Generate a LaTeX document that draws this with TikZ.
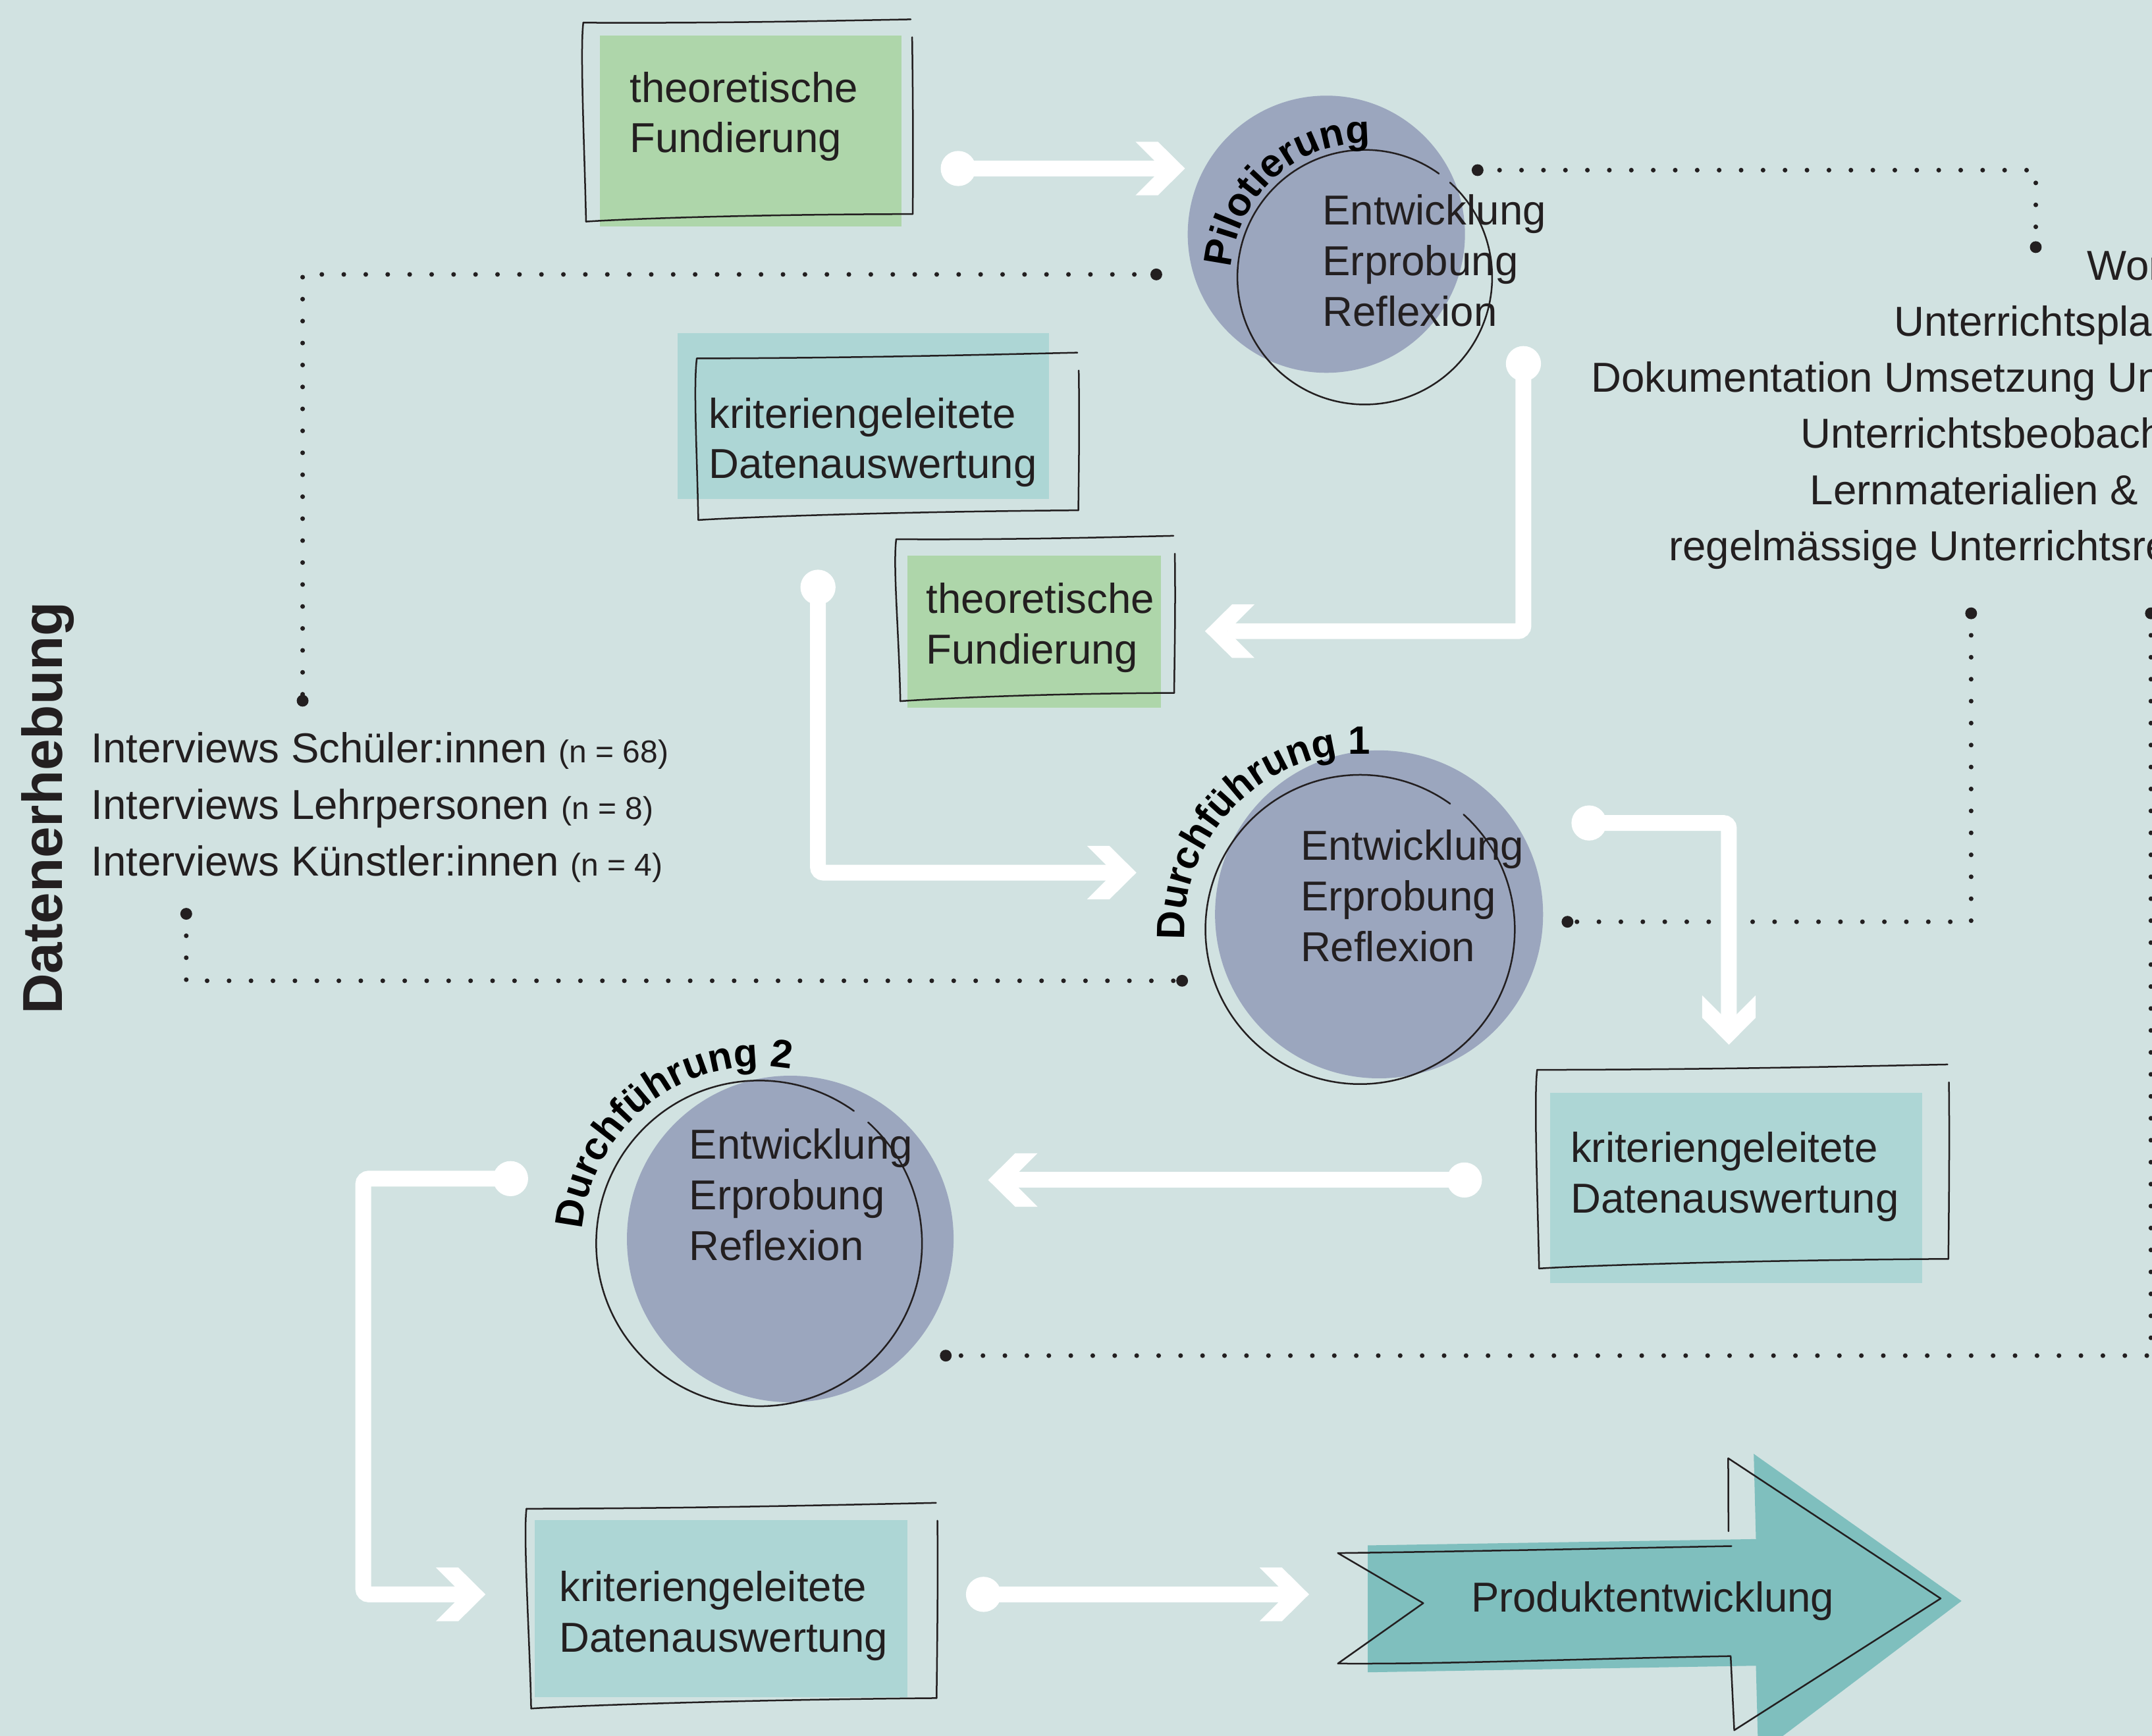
\documentclass[tikz,border=0pt]{standalone}
\usepackage{fontspec}
\setmainfont{Liberation Sans}
\usetikzlibrary{calc,decorations.text}
\definecolor{bg}{RGB}{209,226,225}
\definecolor{greenfill}{RGB}{174,214,170}
\definecolor{tealfill}{RGB}{173,214,213}
\definecolor{circfill}{RGB}{155,166,190}
\definecolor{arrowfill}{RGB}{127,191,190}
\definecolor{ink}{RGB}{35,31,32}
\newcommand\linesof[1]{\begin{tabular}[t]{@{}l@{}}#1\end{tabular}}
\newcommand\chev[2]{\fill[white, shift={(#1)}, rotate=#2] (-36,19.5) -- (-19.7,19.5) -- (0,0) -- (-19.7,-19.5) -- (-36,-19.5) -- (-16.5,0) -- cycle;}
\newcommand\sketchbox[8]{%
  \draw[sketch] (#1,-#2) .. controls ($(#1,-#2)!0.4!(#3,-#4)+(0,-1.5)$) and ($(#1,-#2)!0.75!(#3,-#4)+(0,-0.5)$) .. (#3,-#4);
  \draw[sketch] (#3+1,-#4-13) .. controls (#3+1.5,-#4-50) and (#5+0.5,-#6+40) .. (#5,-#6);
  \draw[sketch] (#5,-#6) .. controls ($(#5,-#6)!0.5!(#7,-#8)+(0,2.5)$) and ($(#7,-#8)+(30,2)$) .. (#7,-#8);
  \draw[sketch] (#1,-#2) .. controls (#1-2.5,-#2-20) and (#7-1,-#8+50) .. (#7,-#8);
}
\newcommand\arctext[4]{%
  \path[decorate, decoration={text along path, text={|\bfseries\fontsize{14.4}{17}\selectfont|#4}, text align=left}]
    ([shift={(#3:#2)}]#1) arc[start angle=#3, end angle=30, radius=#2];}
\tikzset{
  sketch/.style={draw=ink, line width=0.6pt, line cap=round, line join=round},
  flow/.style={draw=white, line width=5.75pt, rounded corners=2pt},
  startdot/.style={circle, fill=white, inner sep=0pt, minimum size=12.8pt},
  bigdot/.style={circle, fill=ink, inner sep=0pt, minimum size=4.3pt},
  dotline/.style={draw=ink, line width=1.7pt, line cap=round, dash pattern=on 0pt off 8pt},
  txt/.style={anchor=base west, inner sep=0pt, text=ink, font=\fontsize{15.25}{18.45}\selectfont},
  listtxt/.style={anchor=base west, inner sep=0pt, text=ink, font=\fontsize{15.25}{20.6}\selectfont},
  gfill/.style={rectangle, fill=greenfill, inner sep=0pt, draw=none},
  tfill/.style={rectangle, fill=tealfill, inner sep=0pt, draw=none},
  cfill/.style={circle, fill=circfill, inner sep=0pt, draw=none},
}
\begin{document}
\begin{tikzpicture}[x=0.5pt,y=0.5pt]
\useasboundingbox (0,0) rectangle (1568,-1265);
\fill[bg] (0,0) rectangle (1568,-1265);
\begin{scope}
\clip (0,0) rectangle (1568,-1265);

% ---- fills ----
\node[gfill, minimum width=110pt, minimum height=69.5pt] (fa1) at (547,-95.5) {};
\node[tfill, minimum width=135.15pt, minimum height=60.55pt] (fb1) at (628.95,-303.35) {};
\node[gfill, minimum width=92.5pt, minimum height=55.5pt] (fa2) at (753.5,-460.5) {};
\node[tfill, minimum width=135.65pt, minimum height=69.2pt] (fb2) at (1265.05,-865.8) {};
\node[tfill, minimum width=135.65pt, minimum height=64.4pt] (fb3) at (525.45,-1172.4) {};
\node[cfill, minimum size=101pt] (pilot) at (966.4,-170.7) {};
\node[cfill, minimum size=119.5pt] (df1) at (1004.8,-666.4) {};
\node[cfill, minimum size=119pt] (df2) at (575.8,-903) {};
\fill[arrowfill] (996.6,-1126.3) -- (1279.4,-1121.7) -- (1277.8,-1059.6) -- (1429.2,-1166.8)
  -- (1286,-1275) -- (1281,-1275) -- (1279.4,-1214) -- (996.6,-1218.8) -- cycle;

% ---- sketch outlines ----
\sketchbox{425}{16.5}{663.6}{14.1}{665}{156}{427}{161.5}
\sketchbox{507.7}{261.2}{785}{257}{785.7}{371.9}{508.8}{379}
\sketchbox{653}{393}{855}{390.5}{855.5}{505}{656}{511}
\sketchbox{1120}{779.7}{1419}{775.8}{1419.6}{917.5}{1121.4}{924.5}
\sketchbox{383.6}{1099.6}{682}{1095.3}{682.4}{1237.6}{387}{1245.2}

\coordinate (pS) at (994.4,-202);
\coordinate (dS1) at (991,-677.4);
\coordinate (dS2) at (553.1,-906.2);
\draw[sketch] ([shift={(48:46.4pt)}]pS) arc[start angle=48, end angle=-305.6, radius=46.4pt];
\draw[sketch] ([shift={(48:56.35pt)}]dS1) arc[start angle=48, end angle=-305.6, radius=56.35pt];
\draw[sketch] ([shift={(48:59.35pt)}]dS2) arc[start angle=48, end angle=-305.6, radius=59.35pt];

\draw[sketch] (1259.4,-1116) -- (1259.2,-1062.8) -- (1414,-1165) -- (1263.6,-1261) -- (1261,-1207)
  .. controls (1150,-1209) and (1050,-1213) .. (974.8,-1212.4) -- (1037,-1168.4) -- (974.8,-1131.9)
  .. controls (1050,-1131) and (1150,-1129) .. (1261.6,-1126.8);

% ---- dotted connectors ----
\node[bigdot] (bd1) at (1076.6,-124) {};
\node[bigdot] (bd2) at (1483.3,-180.1) {};
\node[bigdot] (bd3) at (842.5,-200) {};
\node[bigdot] (bd4) at (220.5,-510.7) {};
\node[bigdot] (bd5) at (135.7,-666) {};
\node[bigdot] (bd6) at (861.3,-714.8) {};
\node[bigdot] (bd7) at (1436.2,-447) {};
\node[bigdot] (bd8) at (1142.1,-671.8) {};
\node[bigdot] (bd9) at (1567.2,-447) {};
\node[bigdot] (bd10) at (689.1,-988) {};
\draw[dotline] (bd1.center) -| (bd2.center);
\draw[dotline] (bd3.center) -| (bd4.center);
\draw[dotline] (bd5.center) |- (bd6.center);
\draw[dotline] (bd7.center) |- (bd8.center);
\draw[dotline] (bd9.center) |- (bd10.center);

% ---- white flow arrows ----
\coordinate (t1) at (863.4,-122.8);
\coordinate (t2) at (878,-460);
\coordinate (t3) at (828,-636);
\coordinate (t4) at (1259.7,-761.4);
\coordinate (t5) at (720,-860);
\coordinate (t6) at (353.7,-1162);
\coordinate (k6) at (264.7,-1000);
\coordinate (t7) at (953.8,-1162);
\node[startdot] (s1) at (698.2,-122.8) {};
\node[startdot] (s2) at (1110,-265) {};
\node[startdot] (s3) at (596,-428) {};
\node[startdot] (s4) at (1157.8,-599.8) {};
\node[startdot] (s5) at (1067,-860) {};
\node[startdot] (s6) at (372,-859) {};
\node[startdot] (s7) at (716.6,-1162) {};
\draw[flow] (s1.center) -- ($(t1)+(-16.5,0)$);
\draw[flow] (s2.center) |- ($(t2)+(16.5,0)$);
\draw[flow] (s3.center) |- ($(t3)+(-16.5,0)$);
\draw[flow] (s4.center) -| ($(t4)+(0,16.5)$);
\draw[flow] (s5.center) -- ($(t5)+(16.5,0)$);
\draw[flow] (s6.center) -| (k6) |- ($(t6)+(-16.5,0)$);
\draw[flow] (s7.center) -- ($(t7)+(-16.5,0)$);
\chev{t1}{0}
\chev{t2}{180}
\chev{t3}{0}
\chev{t4}{-90}
\chev{t5}{180}
\chev{t6}{0}
\chev{t7}{0}

% ---- texts ----
\node[txt] (ta1) at (458.5,-74.4) {\linesof{theoretische\\Fundierung}};
\node[txt] (tb1) at (516,-311.9) {\linesof{kriteriengeleitete\\Datenauswertung}};
\node[txt] (ta2) at (674.5,-447) {\linesof{theoretische\\Fundierung}};
\node[txt] (tb2) at (1144,-847) {\linesof{kriteriengeleitete\\Datenauswertung}};
\node[txt] (tb3) at (407.3,-1167.2) {\linesof{kriteriengeleitete\\Datenauswertung}};
\node[txt] (tp) at (963.3,-164) {\linesof{Entwicklung\\Erprobung\\Reflexion}};
\node[txt] (td1) at (947.2,-626.8) {\linesof{Entwicklung\\Erprobung\\Reflexion}};
\node[txt] (td2) at (501.8,-844.7) {\linesof{Entwicklung\\Erprobung\\Reflexion}};
\node[txt] (prod) at (1071.5,-1174.8) {Produktentwicklung};

\node[listtxt] (iv) at (66,-556) {\linesof{Interviews Schüler:innen {\fontsize{11.5}{13}\selectfont(n = 68)}\\
  Interviews Lehrpersonen {\fontsize{11.5}{13}\selectfont(n = 8)}\\
  Interviews Künstler:innen {\fontsize{11.5}{13}\selectfont(n = 4)}}};

\node[txt] (r1) at (1520.3,-204) {Wor};
\node[txt] (r2) at (1379.6,-244.8) {Unterrichtspla};
\node[txt] (r3) at (1159,-285.5) {Dokumentation Umsetzung Un};
\node[txt] (r4) at (1311.5,-326.3) {Unterrichtsbeobach};
\node[txt] (r5) at (1318.5,-367.6) {Lernmaterialien \&};
\node[txt] (r6) at (1215.6,-408.7) {regelmässige Unterrichtsre};

\node[rotate=90, anchor=base, inner sep=0pt, text=ink, font=\bfseries\fontsize{20.5}{24}\selectfont] (dh) at (45.5,-589) {Datenerhebung};

\arctext{pS}{48.75pt}{176}{Pilotierung}
\arctext{dS1}{64pt}{183.3}{Durchführung 1}
\arctext{dS2}{64.5pt}{175.5}{Durchführung 2}
\end{scope}
\end{tikzpicture}
\end{document}
